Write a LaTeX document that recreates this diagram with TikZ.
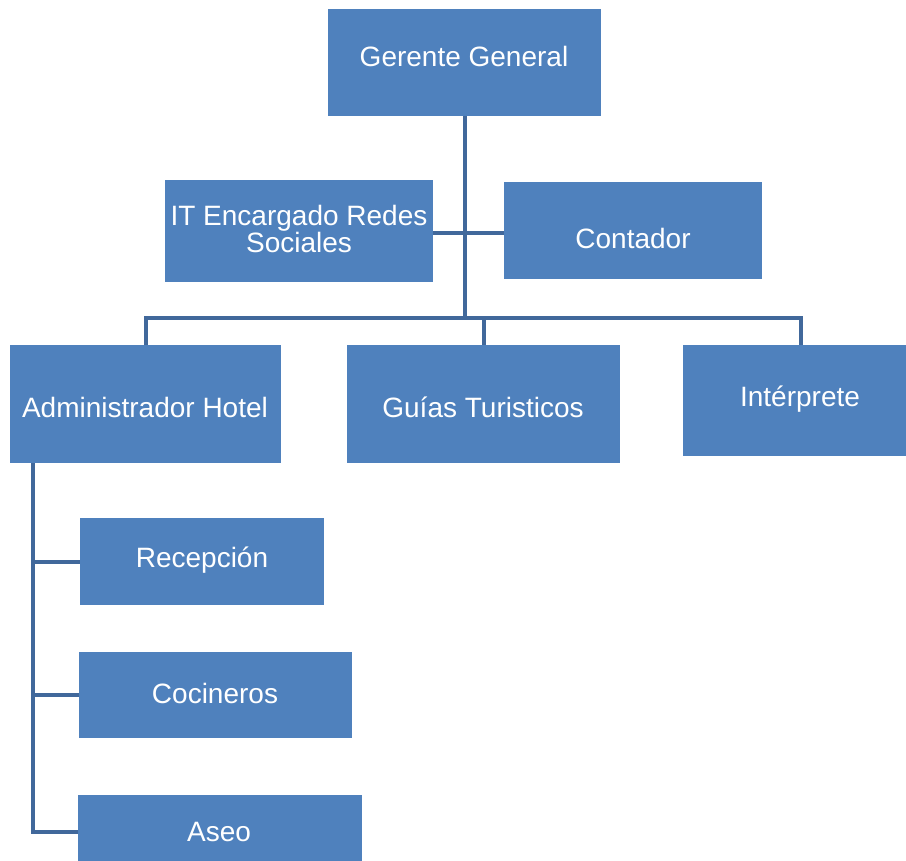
\documentclass[tikz,border=0pt]{standalone}
\usepackage{fontspec}
\setmainfont{Liberation Sans}
\definecolor{boxblue}{HTML}{4F81BD}
\definecolor{lineblue}{HTML}{41689B}
\begin{document}
\begin{tikzpicture}[x=1pt,y=-1pt,
  orgbox/.style={fill=boxblue,draw=none,inner sep=0pt,text=white,
    font=\fontsize{28}{26}\selectfont,align=center},
  boxtext/.style={text=white,inner sep=0pt,font=\fontsize{28}{26}\selectfont,align=center},
  conn/.style={draw=lineblue,line width=4pt}]
\useasboundingbox (0,0) rectangle (906,861);
\node[orgbox,minimum width=273pt,minimum height=107pt] (gg) at (464.5,62.5) {};
\node[boxtext] (ggt) at (464,56) {Gerente General};
\node[orgbox,minimum width=268pt,minimum height=102pt] (it) at (299,231) {};
\node[boxtext] (itt) at (299,229) {IT Encargado Redes\\Sociales};
\node[orgbox,minimum width=258pt,minimum height=97pt] (cont) at (633,230.5) {};
\node[boxtext] (contt) at (633,238) {Contador};
\node[orgbox,minimum width=271pt,minimum height=118pt] (adm) at (145.5,404) {};
\node[boxtext] (admt) at (145,407) {Administrador Hotel};
\node[orgbox,minimum width=273pt,minimum height=118pt] (guia) at (483.5,404) {};
\node[boxtext] (guiat) at (483,407) {Guías Turisticos};
\node[orgbox,minimum width=236pt,minimum height=111pt] (interp) at (801,400.5) {};
\node[boxtext] (interpt) at (800,399) {Intérprete};
\node[orgbox,minimum width=244pt,minimum height=87pt] (rec) at (202,561.5) {};
\node[boxtext] (rect) at (202,560) {Recepción};
\node[orgbox,minimum width=273pt,minimum height=86pt] (coc) at (215.5,695) {};
\node[boxtext] (coct) at (215,693) {Cocineros};
\node[orgbox,minimum width=284pt,minimum height=74pt] (aseo) at (220,832) {};
\node[boxtext] (aseot) at (219,832) {Aseo};
\coordinate (busy) at (0,318);
\coordinate (midy) at (0,233);
\coordinate (sx) at (33,0);
\draw[conn] (gg.south) -- (gg.south |- busy);
\draw[conn] (adm.north) -- (adm.north |- busy) -- (interp.north |- busy) -- (interp.north);
\draw[conn] (guia.north) -- (guia.north |- busy);
\draw[conn] (it.east |- midy) -- (cont.west |- midy);
\draw[conn] (adm.south -| sx) -- (sx |- aseo.west) -- (aseo.west);
\draw[conn] (sx |- rec.west) -- (rec.west);
\draw[conn] (sx |- coc.west) -- (coc.west);
\end{tikzpicture}
\end{document}
